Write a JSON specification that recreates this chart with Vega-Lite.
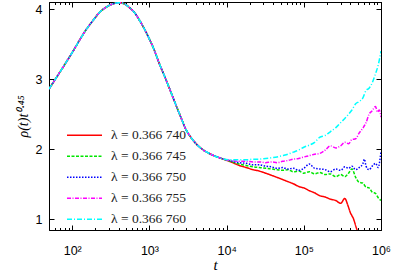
{
  "$schema": "https://vega.github.io/schema/vega-lite/v6.json",
  "width": 332,
  "height": 228,
  "autosize": "none",
  "padding": {"left": 49, "top": 2, "right": 18, "bottom": 43},
  "config": {
    "font": "Liberation Serif",
    "view": {"stroke": "black", "strokeWidth": 1},
    "axis": {"grid": false, "domainColor": "black", "tickColor": "black", "labelColor": "black", "titleColor": "black", "domainWidth": 1, "tickWidth": 1},
    "legend": {"labelFont": "Liberation Serif", "labelFontSize": 13, "labelColor": "#222222"}
  },
  "datasets": {
    "d": [
      {"s": "λ = 0.366 740", "t": 50, "v": 2.86}, {"s": "λ = 0.366 740", "t": 63, "v": 3.03}, {"s": "λ = 0.366 740", "t": 79, "v": 3.20}, {"s": "λ = 0.366 740", "t": 100, "v": 3.38}, {"s": "λ = 0.366 740", "t": 125, "v": 3.56}, {"s": "λ = 0.366 740", "t": 144, "v": 3.67}, {"s": "λ = 0.366 740", "t": 190, "v": 3.85}, {"s": "λ = 0.366 740", "t": 225, "v": 3.95}, {"s": "λ = 0.366 740", "t": 270, "v": 4.02}, {"s": "λ = 0.366 740", "t": 330, "v": 4.07}, {"s": "λ = 0.366 740", "t": 410, "v": 4.09}, {"s": "λ = 0.366 740", "t": 480, "v": 4.07}, {"s": "λ = 0.366 740", "t": 551, "v": 4.02}, {"s": "λ = 0.366 740", "t": 650, "v": 3.94}, {"s": "λ = 0.366 740", "t": 743, "v": 3.84}, {"s": "λ = 0.366 740", "t": 819, "v": 3.76}, {"s": "λ = 0.366 740", "t": 1000, "v": 3.57}, {"s": "λ = 0.366 740", "t": 1160, "v": 3.41}, {"s": "λ = 0.366 740", "t": 1346, "v": 3.22}, {"s": "λ = 0.366 740", "t": 1643, "v": 2.99}, {"s": "λ = 0.366 740", "t": 2000, "v": 2.75}, {"s": "λ = 0.366 740", "t": 2443, "v": 2.51}, {"s": "λ = 0.366 740", "t": 2983, "v": 2.28}, {"s": "λ = 0.366 740", "t": 3500, "v": 2.16}, {"s": "λ = 0.366 740", "t": 4018, "v": 2.08}, {"s": "λ = 0.366 740", "t": 5000, "v": 1.99}, {"s": "λ = 0.366 740", "t": 5972, "v": 1.94}, {"s": "λ = 0.366 740", "t": 8050, "v": 1.88},
      {"s": "λ = 0.366 740", "t": 10840, "v": 1.83}, {"s": "λ = 0.366 740", "t": 14600, "v": 1.77}, {"s": "λ = 0.366 740", "t": 18000, "v": 1.74}, {"s": "λ = 0.366 740", "t": 22000, "v": 1.71}, {"s": "λ = 0.366 740", "t": 26500, "v": 1.69}, {"s": "λ = 0.366 740", "t": 32000, "v": 1.66}, {"s": "λ = 0.366 740", "t": 38000, "v": 1.63}, {"s": "λ = 0.366 740", "t": 45000, "v": 1.60}, {"s": "λ = 0.366 740", "t": 53000, "v": 1.57}, {"s": "λ = 0.366 740", "t": 62000, "v": 1.54}, {"s": "λ = 0.366 740", "t": 73000, "v": 1.51}, {"s": "λ = 0.366 740", "t": 86000, "v": 1.47}, {"s": "λ = 0.366 740", "t": 100000, "v": 1.45}, {"s": "λ = 0.366 740", "t": 118000, "v": 1.41}, {"s": "λ = 0.366 740", "t": 138000, "v": 1.38}, {"s": "λ = 0.366 740", "t": 160000, "v": 1.34}, {"s": "λ = 0.366 740", "t": 190000, "v": 1.32}, {"s": "λ = 0.366 740", "t": 220000, "v": 1.29}, {"s": "λ = 0.366 740", "t": 260000, "v": 1.27}, {"s": "λ = 0.366 740", "t": 300000, "v": 1.23}, {"s": "λ = 0.366 740", "t": 340000, "v": 1.30}, {"s": "λ = 0.366 740", "t": 370000, "v": 1.21}, {"s": "λ = 0.366 740", "t": 400000, "v": 1.10}, {"s": "λ = 0.366 740", "t": 440000, "v": 1.01}, {"s": "λ = 0.366 740", "t": 480000, "v": 0.88}, {"s": "λ = 0.366 740", "t": 520000, "v": 0.78},

      {"s": "λ = 0.366 745", "t": 50, "v": 2.86}, {"s": "λ = 0.366 745", "t": 63, "v": 3.03}, {"s": "λ = 0.366 745", "t": 79, "v": 3.20}, {"s": "λ = 0.366 745", "t": 100, "v": 3.38}, {"s": "λ = 0.366 745", "t": 125, "v": 3.56}, {"s": "λ = 0.366 745", "t": 144, "v": 3.67}, {"s": "λ = 0.366 745", "t": 190, "v": 3.85}, {"s": "λ = 0.366 745", "t": 225, "v": 3.95}, {"s": "λ = 0.366 745", "t": 270, "v": 4.02}, {"s": "λ = 0.366 745", "t": 330, "v": 4.07}, {"s": "λ = 0.366 745", "t": 410, "v": 4.09}, {"s": "λ = 0.366 745", "t": 480, "v": 4.07}, {"s": "λ = 0.366 745", "t": 551, "v": 4.02}, {"s": "λ = 0.366 745", "t": 650, "v": 3.94}, {"s": "λ = 0.366 745", "t": 743, "v": 3.84}, {"s": "λ = 0.366 745", "t": 819, "v": 3.76}, {"s": "λ = 0.366 745", "t": 1000, "v": 3.57}, {"s": "λ = 0.366 745", "t": 1160, "v": 3.41}, {"s": "λ = 0.366 745", "t": 1346, "v": 3.22}, {"s": "λ = 0.366 745", "t": 1643, "v": 2.99}, {"s": "λ = 0.366 745", "t": 2000, "v": 2.75}, {"s": "λ = 0.366 745", "t": 2443, "v": 2.51}, {"s": "λ = 0.366 745", "t": 2983, "v": 2.28}, {"s": "λ = 0.366 745", "t": 3500, "v": 2.16}, {"s": "λ = 0.366 745", "t": 4018, "v": 2.08}, {"s": "λ = 0.366 745", "t": 5000, "v": 1.99}, {"s": "λ = 0.366 745", "t": 5972, "v": 1.94}, {"s": "λ = 0.366 745", "t": 8050, "v": 1.88},
      {"s": "λ = 0.366 745", "t": 10840, "v": 1.835}, {"s": "λ = 0.366 745", "t": 14600, "v": 1.79}, {"s": "λ = 0.366 745", "t": 18000, "v": 1.77}, {"s": "λ = 0.366 745", "t": 22000, "v": 1.75}, {"s": "λ = 0.366 745", "t": 26500, "v": 1.74}, {"s": "λ = 0.366 745", "t": 32000, "v": 1.73}, {"s": "λ = 0.366 745", "t": 38000, "v": 1.72}, {"s": "λ = 0.366 745", "t": 45000, "v": 1.71}, {"s": "λ = 0.366 745", "t": 53000, "v": 1.70}, {"s": "λ = 0.366 745", "t": 62000, "v": 1.71}, {"s": "λ = 0.366 745", "t": 73000, "v": 1.68}, {"s": "λ = 0.366 745", "t": 86000, "v": 1.69}, {"s": "λ = 0.366 745", "t": 100000, "v": 1.66}, {"s": "λ = 0.366 745", "t": 118000, "v": 1.68}, {"s": "λ = 0.366 745", "t": 138000, "v": 1.65}, {"s": "λ = 0.366 745", "t": 160000, "v": 1.67}, {"s": "λ = 0.366 745", "t": 190000, "v": 1.64}, {"s": "λ = 0.366 745", "t": 220000, "v": 1.65}, {"s": "λ = 0.366 745", "t": 260000, "v": 1.61}, {"s": "λ = 0.366 745", "t": 300000, "v": 1.64}, {"s": "λ = 0.366 745", "t": 340000, "v": 1.61}, {"s": "λ = 0.366 745", "t": 380000, "v": 1.66}, {"s": "λ = 0.366 745", "t": 420000, "v": 1.72}, {"s": "λ = 0.366 745", "t": 470000, "v": 1.60}, {"s": "λ = 0.366 745", "t": 520000, "v": 1.53}, {"s": "λ = 0.366 745", "t": 580000, "v": 1.52}, {"s": "λ = 0.366 745", "t": 640000, "v": 1.46}, {"s": "λ = 0.366 745", "t": 700000, "v": 1.45}, {"s": "λ = 0.366 745", "t": 770000, "v": 1.39}, {"s": "λ = 0.366 745", "t": 850000, "v": 1.37}, {"s": "λ = 0.366 745", "t": 920000, "v": 1.31}, {"s": "λ = 0.366 745", "t": 1000000, "v": 1.27},

      {"s": "λ = 0.366 750", "t": 50, "v": 2.86}, {"s": "λ = 0.366 750", "t": 63, "v": 3.03}, {"s": "λ = 0.366 750", "t": 79, "v": 3.20}, {"s": "λ = 0.366 750", "t": 100, "v": 3.38}, {"s": "λ = 0.366 750", "t": 125, "v": 3.56}, {"s": "λ = 0.366 750", "t": 144, "v": 3.67}, {"s": "λ = 0.366 750", "t": 190, "v": 3.85}, {"s": "λ = 0.366 750", "t": 225, "v": 3.95}, {"s": "λ = 0.366 750", "t": 270, "v": 4.02}, {"s": "λ = 0.366 750", "t": 330, "v": 4.07}, {"s": "λ = 0.366 750", "t": 410, "v": 4.09}, {"s": "λ = 0.366 750", "t": 480, "v": 4.07}, {"s": "λ = 0.366 750", "t": 551, "v": 4.02}, {"s": "λ = 0.366 750", "t": 650, "v": 3.94}, {"s": "λ = 0.366 750", "t": 743, "v": 3.84}, {"s": "λ = 0.366 750", "t": 819, "v": 3.76}, {"s": "λ = 0.366 750", "t": 1000, "v": 3.57}, {"s": "λ = 0.366 750", "t": 1160, "v": 3.41}, {"s": "λ = 0.366 750", "t": 1346, "v": 3.22}, {"s": "λ = 0.366 750", "t": 1643, "v": 2.99}, {"s": "λ = 0.366 750", "t": 2000, "v": 2.75}, {"s": "λ = 0.366 750", "t": 2443, "v": 2.51}, {"s": "λ = 0.366 750", "t": 2983, "v": 2.28}, {"s": "λ = 0.366 750", "t": 3500, "v": 2.16}, {"s": "λ = 0.366 750", "t": 4018, "v": 2.08}, {"s": "λ = 0.366 750", "t": 5000, "v": 1.99}, {"s": "λ = 0.366 750", "t": 5972, "v": 1.94}, {"s": "λ = 0.366 750", "t": 8050, "v": 1.88},
      {"s": "λ = 0.366 750", "t": 10840, "v": 1.84}, {"s": "λ = 0.366 750", "t": 14600, "v": 1.81}, {"s": "λ = 0.366 750", "t": 18000, "v": 1.80}, {"s": "λ = 0.366 750", "t": 22000, "v": 1.78}, {"s": "λ = 0.366 750", "t": 26500, "v": 1.78}, {"s": "λ = 0.366 750", "t": 32000, "v": 1.76}, {"s": "λ = 0.366 750", "t": 38000, "v": 1.75}, {"s": "λ = 0.366 750", "t": 45000, "v": 1.73}, {"s": "λ = 0.366 750", "t": 53000, "v": 1.74}, {"s": "λ = 0.366 750", "t": 62000, "v": 1.72}, {"s": "λ = 0.366 750", "t": 73000, "v": 1.73}, {"s": "λ = 0.366 750", "t": 86000, "v": 1.70}, {"s": "λ = 0.366 750", "t": 100000, "v": 1.73}, {"s": "λ = 0.366 750", "t": 118000, "v": 1.79}, {"s": "λ = 0.366 750", "t": 138000, "v": 1.73}, {"s": "λ = 0.366 750", "t": 160000, "v": 1.72}, {"s": "λ = 0.366 750", "t": 190000, "v": 1.71}, {"s": "λ = 0.366 750", "t": 220000, "v": 1.68}, {"s": "λ = 0.366 750", "t": 260000, "v": 1.72}, {"s": "λ = 0.366 750", "t": 300000, "v": 1.70}, {"s": "λ = 0.366 750", "t": 340000, "v": 1.75}, {"s": "λ = 0.366 750", "t": 380000, "v": 1.73}, {"s": "λ = 0.366 750", "t": 420000, "v": 1.76}, {"s": "λ = 0.366 750", "t": 470000, "v": 1.71}, {"s": "λ = 0.366 750", "t": 520000, "v": 1.74}, {"s": "λ = 0.366 750", "t": 580000, "v": 1.79}, {"s": "λ = 0.366 750", "t": 610000, "v": 1.86}, {"s": "λ = 0.366 750", "t": 640000, "v": 1.76}, {"s": "λ = 0.366 750", "t": 700000, "v": 1.71}, {"s": "λ = 0.366 750", "t": 770000, "v": 1.76}, {"s": "λ = 0.366 750", "t": 850000, "v": 1.80}, {"s": "λ = 0.366 750", "t": 920000, "v": 1.74}, {"s": "λ = 0.366 750", "t": 960000, "v": 1.82}, {"s": "λ = 0.366 750", "t": 1000000, "v": 1.97},

      {"s": "λ = 0.366 755", "t": 50, "v": 2.86}, {"s": "λ = 0.366 755", "t": 63, "v": 3.03}, {"s": "λ = 0.366 755", "t": 79, "v": 3.20}, {"s": "λ = 0.366 755", "t": 100, "v": 3.38}, {"s": "λ = 0.366 755", "t": 125, "v": 3.56}, {"s": "λ = 0.366 755", "t": 144, "v": 3.67}, {"s": "λ = 0.366 755", "t": 190, "v": 3.85}, {"s": "λ = 0.366 755", "t": 225, "v": 3.95}, {"s": "λ = 0.366 755", "t": 270, "v": 4.02}, {"s": "λ = 0.366 755", "t": 330, "v": 4.07}, {"s": "λ = 0.366 755", "t": 410, "v": 4.09}, {"s": "λ = 0.366 755", "t": 480, "v": 4.07}, {"s": "λ = 0.366 755", "t": 551, "v": 4.02}, {"s": "λ = 0.366 755", "t": 650, "v": 3.94}, {"s": "λ = 0.366 755", "t": 743, "v": 3.84}, {"s": "λ = 0.366 755", "t": 819, "v": 3.76}, {"s": "λ = 0.366 755", "t": 1000, "v": 3.57}, {"s": "λ = 0.366 755", "t": 1160, "v": 3.41}, {"s": "λ = 0.366 755", "t": 1346, "v": 3.22}, {"s": "λ = 0.366 755", "t": 1643, "v": 2.99}, {"s": "λ = 0.366 755", "t": 2000, "v": 2.75}, {"s": "λ = 0.366 755", "t": 2443, "v": 2.51}, {"s": "λ = 0.366 755", "t": 2983, "v": 2.28}, {"s": "λ = 0.366 755", "t": 3500, "v": 2.16}, {"s": "λ = 0.366 755", "t": 4018, "v": 2.08}, {"s": "λ = 0.366 755", "t": 5000, "v": 1.99}, {"s": "λ = 0.366 755", "t": 5972, "v": 1.94}, {"s": "λ = 0.366 755", "t": 8050, "v": 1.88},
      {"s": "λ = 0.366 755", "t": 10840, "v": 1.845}, {"s": "λ = 0.366 755", "t": 14600, "v": 1.83}, {"s": "λ = 0.366 755", "t": 18000, "v": 1.83}, {"s": "λ = 0.366 755", "t": 22000, "v": 1.82}, {"s": "λ = 0.366 755", "t": 26500, "v": 1.82}, {"s": "λ = 0.366 755", "t": 32000, "v": 1.81}, {"s": "λ = 0.366 755", "t": 38000, "v": 1.82}, {"s": "λ = 0.366 755", "t": 45000, "v": 1.81}, {"s": "λ = 0.366 755", "t": 53000, "v": 1.83}, {"s": "λ = 0.366 755", "t": 62000, "v": 1.84}, {"s": "λ = 0.366 755", "t": 73000, "v": 1.86}, {"s": "λ = 0.366 755", "t": 86000, "v": 1.87}, {"s": "λ = 0.366 755", "t": 100000, "v": 1.89}, {"s": "λ = 0.366 755", "t": 118000, "v": 1.91}, {"s": "λ = 0.366 755", "t": 138000, "v": 1.93}, {"s": "λ = 0.366 755", "t": 160000, "v": 1.94}, {"s": "λ = 0.366 755", "t": 190000, "v": 1.99}, {"s": "λ = 0.366 755", "t": 220000, "v": 2.05}, {"s": "λ = 0.366 755", "t": 260000, "v": 2.02}, {"s": "λ = 0.366 755", "t": 300000, "v": 2.05}, {"s": "λ = 0.366 755", "t": 340000, "v": 2.10}, {"s": "λ = 0.366 755", "t": 380000, "v": 2.08}, {"s": "λ = 0.366 755", "t": 420000, "v": 2.14}, {"s": "λ = 0.366 755", "t": 470000, "v": 2.15}, {"s": "λ = 0.366 755", "t": 520000, "v": 2.23}, {"s": "λ = 0.366 755", "t": 580000, "v": 2.30}, {"s": "λ = 0.366 755", "t": 640000, "v": 2.38}, {"s": "λ = 0.366 755", "t": 700000, "v": 2.50}, {"s": "λ = 0.366 755", "t": 770000, "v": 2.55}, {"s": "λ = 0.366 755", "t": 850000, "v": 2.61}, {"s": "λ = 0.366 755", "t": 900000, "v": 2.53}, {"s": "λ = 0.366 755", "t": 950000, "v": 2.56}, {"s": "λ = 0.366 755", "t": 1000000, "v": 2.46},

      {"s": "λ = 0.366 760", "t": 50, "v": 2.86}, {"s": "λ = 0.366 760", "t": 63, "v": 3.03}, {"s": "λ = 0.366 760", "t": 79, "v": 3.20}, {"s": "λ = 0.366 760", "t": 100, "v": 3.38}, {"s": "λ = 0.366 760", "t": 125, "v": 3.56}, {"s": "λ = 0.366 760", "t": 144, "v": 3.67}, {"s": "λ = 0.366 760", "t": 190, "v": 3.85}, {"s": "λ = 0.366 760", "t": 225, "v": 3.95}, {"s": "λ = 0.366 760", "t": 270, "v": 4.02}, {"s": "λ = 0.366 760", "t": 330, "v": 4.07}, {"s": "λ = 0.366 760", "t": 410, "v": 4.09}, {"s": "λ = 0.366 760", "t": 480, "v": 4.07}, {"s": "λ = 0.366 760", "t": 551, "v": 4.02}, {"s": "λ = 0.366 760", "t": 650, "v": 3.94}, {"s": "λ = 0.366 760", "t": 743, "v": 3.84}, {"s": "λ = 0.366 760", "t": 819, "v": 3.76}, {"s": "λ = 0.366 760", "t": 1000, "v": 3.57}, {"s": "λ = 0.366 760", "t": 1160, "v": 3.41}, {"s": "λ = 0.366 760", "t": 1346, "v": 3.22}, {"s": "λ = 0.366 760", "t": 1643, "v": 2.99}, {"s": "λ = 0.366 760", "t": 2000, "v": 2.75}, {"s": "λ = 0.366 760", "t": 2443, "v": 2.51}, {"s": "λ = 0.366 760", "t": 2983, "v": 2.28}, {"s": "λ = 0.366 760", "t": 3500, "v": 2.16}, {"s": "λ = 0.366 760", "t": 4018, "v": 2.08}, {"s": "λ = 0.366 760", "t": 5000, "v": 1.99}, {"s": "λ = 0.366 760", "t": 5972, "v": 1.94}, {"s": "λ = 0.366 760", "t": 8050, "v": 1.88},
      {"s": "λ = 0.366 760", "t": 10840, "v": 1.85}, {"s": "λ = 0.366 760", "t": 14600, "v": 1.85}, {"s": "λ = 0.366 760", "t": 18000, "v": 1.85}, {"s": "λ = 0.366 760", "t": 22000, "v": 1.86}, {"s": "λ = 0.366 760", "t": 26500, "v": 1.86}, {"s": "λ = 0.366 760", "t": 32000, "v": 1.87}, {"s": "λ = 0.366 760", "t": 38000, "v": 1.88}, {"s": "λ = 0.366 760", "t": 45000, "v": 1.89}, {"s": "λ = 0.366 760", "t": 53000, "v": 1.91}, {"s": "λ = 0.366 760", "t": 62000, "v": 1.93}, {"s": "λ = 0.366 760", "t": 73000, "v": 1.96}, {"s": "λ = 0.366 760", "t": 86000, "v": 1.99}, {"s": "λ = 0.366 760", "t": 100000, "v": 2.03}, {"s": "λ = 0.366 760", "t": 118000, "v": 2.06}, {"s": "λ = 0.366 760", "t": 138000, "v": 2.10}, {"s": "λ = 0.366 760", "t": 160000, "v": 2.17}, {"s": "λ = 0.366 760", "t": 190000, "v": 2.20}, {"s": "λ = 0.366 760", "t": 220000, "v": 2.25}, {"s": "λ = 0.366 760", "t": 260000, "v": 2.31}, {"s": "λ = 0.366 760", "t": 300000, "v": 2.38}, {"s": "λ = 0.366 760", "t": 340000, "v": 2.44}, {"s": "λ = 0.366 760", "t": 380000, "v": 2.50}, {"s": "λ = 0.366 760", "t": 420000, "v": 2.56}, {"s": "λ = 0.366 760", "t": 470000, "v": 2.65}, {"s": "λ = 0.366 760", "t": 520000, "v": 2.68}, {"s": "λ = 0.366 760", "t": 580000, "v": 2.73}, {"s": "λ = 0.366 760", "t": 640000, "v": 2.84}, {"s": "λ = 0.366 760", "t": 700000, "v": 2.87}, {"s": "λ = 0.366 760", "t": 770000, "v": 2.95}, {"s": "λ = 0.366 760", "t": 850000, "v": 3.08}, {"s": "λ = 0.366 760", "t": 920000, "v": 3.20}, {"s": "λ = 0.366 760", "t": 1000000, "v": 3.40}
    ]
  },
  "data": {"name": "d"},
  "layer": [
    {
      "mark": {"type": "line", "strokeWidth": 1.5, "clip": true, "interpolate": "monotone"},
      "encoding": {
        "x": {
          "field": "t", "type": "quantitative",
          "scale": {"type": "log", "domain": [50, 1000000], "nice": false},
          "axis": {
            "orient": "bottom",
            "values": [60, 70, 80, 90, 100, 200, 300, 400, 500, 600, 700, 800, 900, 1000, 2000, 3000, 4000, 5000, 6000, 7000, 8000, 9000, 10000, 20000, 30000, 40000, 50000, 60000, 70000, 80000, 90000, 100000, 200000, 300000, 400000, 500000, 600000, 700000, 800000, 900000, 1000000],
            "labelExpr": "datum.value == 100 ? '10²' : datum.value == 1000 ? '10³' : datum.value == 10000 ? '10⁴' : datum.value == 100000 ? '10⁵' : datum.value == 1000000 ? '10⁶' : ''",
            "tickSize": {"condition": {"test": "indexof([100,1000,10000,100000,1000000], datum.value) < 0", "value": -2.5}, "value": -5},
            "labelPadding": 19,
            "labelFlush": false,
            "labelOverlap": false,
            "labelFont": "Liberation Sans",
            "labelFontSize": 12.5,
            "title": "t",
            "titleFont": "Liberation Serif",
            "titleFontStyle": "italic",
            "titleFontWeight": "normal",
            "titleFontSize": 15,
            "titlePadding": -2
          }
        },
        "y": {
          "field": "v", "type": "quantitative",
          "scale": {"domain": [0.85, 4.1], "nice": false, "zero": false},
          "axis": {
            "orient": "left",
            "values": [1, 2, 3, 4],
            "tickSize": -5,
            "labelPadding": 12,
            "labelFont": "Liberation Sans",
            "labelFontSize": 12.5,
            "title": "ρ(t)t⁰·⁴⁵",
            "titleFont": "Liberation Serif",
            "titleFontStyle": "italic",
            "titleFontWeight": "normal",
            "titleFontSize": 14,
            "titlePadding": 5
          }
        },
        "color": {
          "field": "s", "type": "nominal",
          "scale": {"domain": ["λ = 0.366 740", "λ = 0.366 745", "λ = 0.366 750", "λ = 0.366 755", "λ = 0.366 760"], "range": ["#ff0000", "#00e600", "#0000ff", "#ff00ff", "#00ffff"]},
          "legend": {"orient": "none", "legendX": 17, "legendY": 123, "title": null, "symbolType": "stroke", "symbolSize": 1225, "symbolStrokeWidth": 1.5, "labelFont": "Liberation Serif", "labelFontSize": 13.5, "labelColor": "#222222", "clipHeight": 20.5, "rowPadding": 0, "padding": 0, "labelOffset": 8}
        },
        "strokeDash": {
          "field": "s", "type": "nominal",
          "scale": {"domain": ["λ = 0.366 740", "λ = 0.366 745", "λ = 0.366 750", "λ = 0.366 755", "λ = 0.366 760"], "range": [[1, 0], [3, 1.5], [1.5, 1.5], [4, 1.5, 1, 1.5], [5, 2, 1, 2]]},
          "legend": {"orient": "none", "legendX": 17, "legendY": 123, "title": null, "symbolType": "stroke", "symbolSize": 1225, "symbolStrokeWidth": 1.5, "labelFont": "Liberation Serif", "labelFontSize": 13.5, "labelColor": "#222222", "clipHeight": 20.5, "rowPadding": 0, "padding": 0, "labelOffset": 8}
        }
      }
    },
    {
      "mark": {"type": "line", "opacity": 0},
      "encoding": {
        "x": {
          "field": "t", "type": "quantitative",
          "axis": {
            "orient": "top",
            "values": [60, 70, 80, 90, 100, 200, 300, 400, 500, 600, 700, 800, 900, 1000, 2000, 3000, 4000, 5000, 6000, 7000, 8000, 9000, 10000, 20000, 30000, 40000, 50000, 60000, 70000, 80000, 90000, 100000, 200000, 300000, 400000, 500000, 600000, 700000, 800000, 900000, 1000000],
            "labels": false,
            "title": null,
            "tickSize": {"condition": {"test": "indexof([100,1000,10000,100000,1000000], datum.value) < 0", "value": -2.5}, "value": -5}
          }
        },
        "y": {
          "field": "v", "type": "quantitative",
          "axis": {"orient": "right", "values": [1, 2, 3, 4], "labels": false, "title": null, "tickSize": -5}
        },
        "detail": {"field": "s", "type": "nominal"}
      }
    }
  ],
  "resolve": {"axis": {"x": "independent", "y": "independent"}}
}
